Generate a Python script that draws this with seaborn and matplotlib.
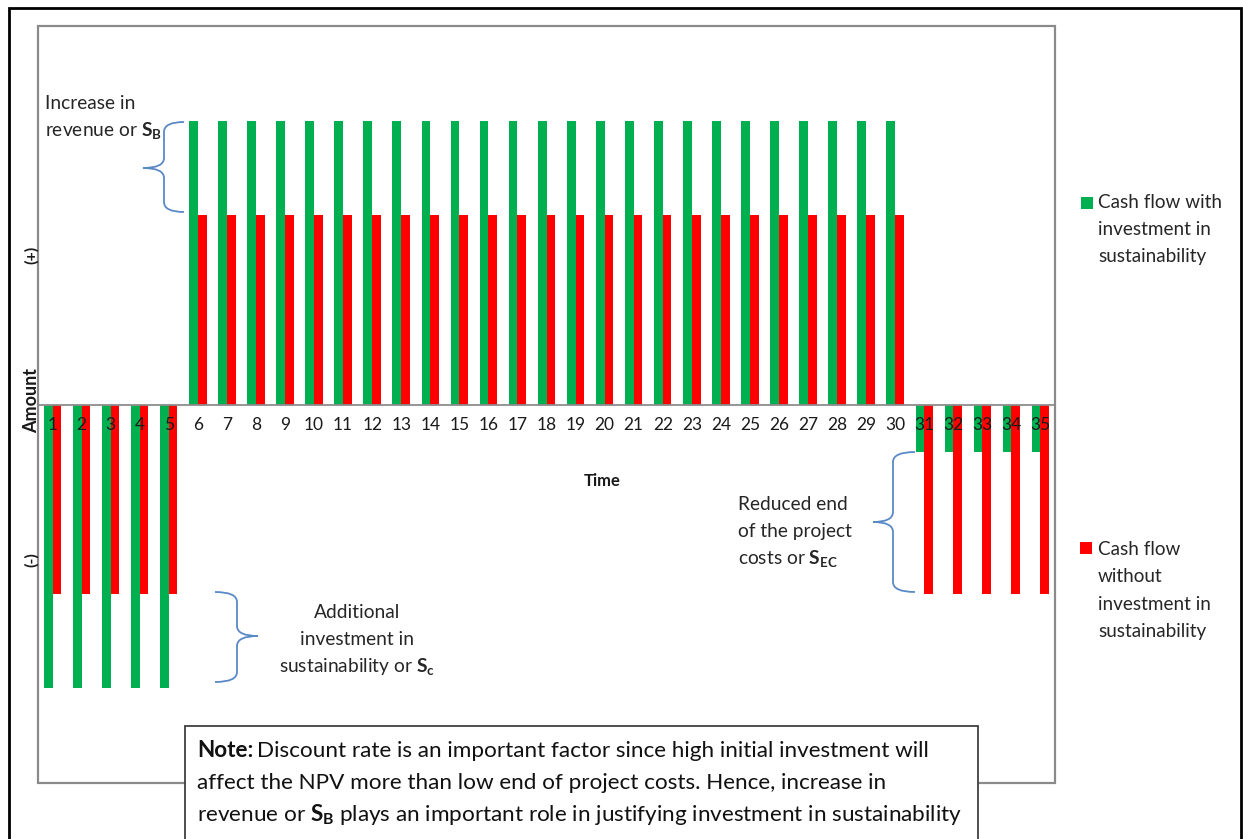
import matplotlib
matplotlib.use("Agg")
import matplotlib.pyplot as plt
import seaborn as sns
import pandas as pd
from matplotlib.patches import Rectangle, PathPatch
from matplotlib.path import Path
from matplotlib.ticker import FixedLocator
from matplotlib import font_manager as fm

# ---------------- data ----------------
time_labels = [str(t) for t in range(1, 36)]
with_sustainability = [-3.0, -3.0, -3.0, -3.0, -3.0,
                       3.0, 3.0, 3.0, 3.0, 3.0, 3.0, 3.0, 3.0, 3.0, 3.0,
                       3.0, 3.0, 3.0, 3.0, 3.0, 3.0, 3.0, 3.0, 3.0, 3.0,
                       3.0, 3.0, 3.0, 3.0, 3.0,
                       -0.5, -0.5, -0.5, -0.5, -0.5]
without_sustainability = [-2.0, -2.0, -2.0, -2.0, -2.0,
                          2.0, 2.0, 2.0, 2.0, 2.0, 2.0, 2.0, 2.0, 2.0, 2.0,
                          2.0, 2.0, 2.0, 2.0, 2.0, 2.0, 2.0, 2.0, 2.0, 2.0,
                          2.0, 2.0, 2.0, 2.0, 2.0,
                          -2.0, -2.0, -2.0, -2.0, -2.0]
series_names = ["Cash flow with investment in sustainability",
                "Cash flow without investment in sustainability"]
colors = ["#00B050", "#FF0000"]

df = pd.DataFrame({
    "Time": time_labels * 2,
    "Amount": with_sustainability + without_sustainability,
    "Series": [series_names[0]] * 35 + [series_names[1]] * 35,
})

# ---------------- style ----------------
sns.set_theme(style="white")
MAIN = "Lato"
def has_font(name):
    try:
        fm.findfont(fm.FontProperties(family=name), fallback_to_default=False)
        return True
    except Exception:
        return False
NARROW = "Liberation Sans Narrow" if has_font("Liberation Sans Narrow") else MAIN
plt.rcParams["font.family"] = [MAIN, "DejaVu Sans"]
plt.rcParams["mathtext.fontset"] = "custom"
plt.rcParams["mathtext.rm"] = MAIN
plt.rcParams["mathtext.bf"] = MAIN + ":bold"
plt.rcParams["mathtext.it"] = MAIN + ":italic"

W, H = 1243, 839
fig = plt.figure(figsize=(W / 100, H / 100), dpi=100)
fig.patch.set_facecolor("white")

def fx(px):
    return px / W
def fy(py):
    return 1 - py / H

ax = fig.add_axes([fx(38), fy(783), (1055 - 38) / W, (783 - 26) / H])

sns.barplot(data=df, x="Time", y="Amount", hue="Series", order=time_labels,
            hue_order=series_names, palette=colors, saturation=1,
            width=0.6, linewidth=0, legend=False, ax=ax, zorder=2)

ax.set_xlim(-0.5, 34.5)
ax.set_ylim(-4, 4)
ax.set_yticks([])
ax.set_xlabel("")
ax.set_ylabel("")
ax.set_axisbelow(False)

for s in ["top", "left", "right"]:
    ax.spines[s].set_visible(False)
ax.spines["bottom"].set_position(("data", 0))
ax.spines["bottom"].set_color("#8c8c8c")
ax.spines["bottom"].set_linewidth(1.3)
ax.spines["bottom"].set_zorder(3)

# frame
ax.add_patch(Rectangle((0, 0), 1, 1, transform=ax.transAxes, fill=False,
                       ec="#8a8a8a", lw=1.6, clip_on=False, zorder=5))

ax.tick_params(axis="x", which="major", length=0, pad=9, labelsize=12.5,
               labelcolor="#1a1a1a")
ax.xaxis.set_minor_locator(FixedLocator([i + 0.5 for i in range(-1, 35)]))
ax.tick_params(axis="x", which="minor", length=5, width=1, color="#8c8c8c",
               direction="out")
for lab in ax.get_xticklabels():
    lab.set_zorder(6)

# axis label texts
fig.text(fx(602), fy(481), "Time", ha="center", va="center",
         fontsize=12, fontweight="bold", color="#1a1a1a")
fig.text(fx(32), fy(400), "Amount", ha="center", va="center", rotation=90,
         fontsize=13, fontweight="bold", color="#1a1a1a")
fig.text(fx(32), fy(255), "(+)", ha="center", va="center", rotation=90,
         fontsize=11.5, fontweight="bold", color="#1a1a1a")
fig.text(fx(32), fy(560), "(-)", ha="center", va="center", rotation=90,
         fontsize=11.5, fontweight="bold", color="#1a1a1a")

# braces
BRACE = "#5a8ac6"
def brace(x_end, x_v, x_tip, y_top, y_mid, y_bot, r=10):
    pts = [
        (x_end, y_top),
        (x_v, y_top), (x_v, y_top + r),
        (x_v, y_mid - r),
        (x_v, y_mid), (x_tip, y_mid),
        (x_v, y_mid), (x_v, y_mid + r),
        (x_v, y_bot - r),
        (x_v, y_bot), (x_end, y_bot),
    ]
    codes = [Path.MOVETO,
             Path.CURVE3, Path.CURVE3,
             Path.LINETO,
             Path.CURVE3, Path.CURVE3,
             Path.CURVE3, Path.CURVE3,
             Path.LINETO,
             Path.CURVE3, Path.CURVE3]
    verts = [(fx(a), fy(b)) for a, b in pts]
    fig.patches.append(PathPatch(Path(verts, codes), transform=fig.transFigure,
                                 fill=False, ec=BRACE, lw=1.3))

brace(184, 164, 143, 122, 168, 212)
brace(215, 237, 258, 592, 636, 682)
brace(915, 893, 873, 452, 522, 592)

TXT = "#262626"
FS = 13.8
def lines(x, baselines, texts, ha="left", fs=FS):
    for yb, t in zip(baselines, texts):
        fig.text(fx(x), fy(yb), t, ha=ha, va="baseline", fontsize=fs,
                 color=TXT)

lines(45, [109, 136], ["Increase in", r"revenue or $\mathbf{S}_{\mathbf{B}}$"])
lines(357, [618, 645, 672], ["Additional", "investment in",
                              r"sustainability or $\mathbf{S}_{\mathbf{c}}$"],
      ha="center")
lines(738, [510, 537, 564], ["Reduced end", "of the project",
                              r"costs or $\mathbf{S}_{\mathbf{EC}}$"])

# legend entries
fig.patches.append(Rectangle((fx(1081), fy(209)), 12 / W, 12 / H,
                             transform=fig.transFigure, fc=colors[0], ec="none"))
lines(1098, [208, 235, 262], ["Cash flow with", "investment in", "sustainability"],
      fs=13.6)
fig.patches.append(Rectangle((fx(1080), fy(554)), 12 / W, 12 / H,
                             transform=fig.transFigure, fc=colors[1], ec="none"))
lines(1098, [555, 582, 610, 637], ["Cash flow", "without", "investment in",
                                   "sustainability"], fs=13.6)

# note box
fig.patches.append(Rectangle((fx(185), fy(850)), (978 - 185) / W, (850 - 726) / H,
                             transform=fig.transFigure, fc="white", ec="#404040",
                             lw=1.3, zorder=10))
NFS = 16.2
fig.canvas.draw()
renderer = fig.canvas.get_renderer()
t_note = fig.text(fx(197), fy(757), "Note:", ha="left", va="baseline",
                  fontsize=NFS, fontweight="bold", family=NARROW,
                  color="#111111", zorder=11)
bb = t_note.get_window_extent(renderer=renderer)
fig.text(bb.x1 / W + 4 / W, fy(757),
         "Discount rate is an important factor since high initial investment will",
         ha="left", va="baseline", fontsize=NFS, family=NARROW, color="#111111",
         zorder=11)
fig.text(fx(197), fy(789),
         "affect the NPV more than low end of project costs. Hence, increase in",
         ha="left", va="baseline", fontsize=NFS, family=NARROW, color="#111111",
         zorder=11)
fig.text(fx(197), fy(821),
         r"revenue or $\mathbf{S}_{\mathbf{B}}$ plays an important role in justifying investment in sustainability",
         ha="left", va="baseline", fontsize=NFS, family=NARROW, color="#111111",
         zorder=11)

# outer border
fig.patches.append(Rectangle((fx(9), fy(850)), (1241 - 9) / W, (850 - 8) / H,
                             transform=fig.transFigure, fill=False, ec="black",
                             lw=2, zorder=12))

fig.savefig("out.png", dpi=100)
